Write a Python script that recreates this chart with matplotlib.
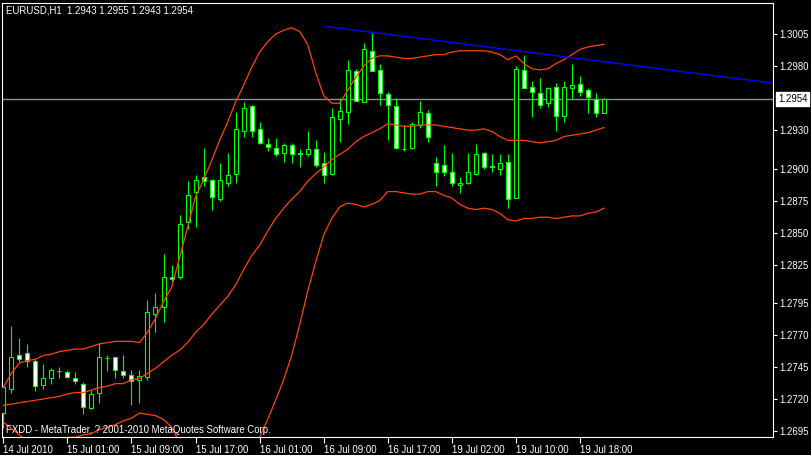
import matplotlib.pyplot as plt

plt.rcParams['font.family'] = ['Liberation Sans', 'DejaVu Sans']

# --- EURUSD H1 bars, 14 Jul 17:00 .. 19 Jul 2010 ---
opens = [1.2709, 1.2728, 1.2754, 1.2756, 1.2750, 1.2731, 1.2736, 1.2742, 1.2741, 1.2736,
         1.2732, 1.2713, 1.2725, 1.2752, 1.2753, 1.2742, 1.2739, 1.2735, 1.2737, 1.2786,
         1.2792, 1.2815, 1.2815, 1.2858, 1.2882, 1.2893, 1.2891, 1.2876, 1.2889, 1.2896,
         1.2929, 1.2949, 1.2931, 1.2919, 1.2916, 1.2912, 1.2918, 1.2911, 1.2911, 1.2915,
         1.2904, 1.2896, 1.2939, 1.2944, 1.2976, 1.2952, 1.2992, 1.2977, 1.2958, 1.2949,
         1.2915, 1.2916, 1.2934, 1.2943, 1.2904, 1.2903, 1.2897, 1.2887, 1.2889, 1.2896,
         1.2912, 1.2901, 1.2900, 1.2905, 1.2877, 1.2977, 1.2964, 1.2959, 1.2951, 1.2964,
         1.2941, 1.2963, 1.2966, 1.2961, 1.2954, 1.2943]
highs = [1.2730, 1.2777, 1.2768, 1.2763, 1.2751, 1.2747, 1.2744, 1.2745, 1.2743, 1.2741,
         1.2733, 1.2727, 1.2764, 1.2754, 1.2753, 1.2754, 1.2743, 1.2743, 1.2797, 1.2803,
         1.2833, 1.2825, 1.2864, 1.2890, 1.2895, 1.2916, 1.2892, 1.2904, 1.2912, 1.2944,
         1.2952, 1.2950, 1.2936, 1.2924, 1.2924, 1.2920, 1.2920, 1.2915, 1.2929, 1.2922,
         1.2913, 1.2947, 1.2955, 1.2985, 1.2978, 1.2998, 1.3006, 1.2982, 1.2960, 1.2955,
         1.2934, 1.2936, 1.2953, 1.2946, 1.2909, 1.2918, 1.2912, 1.2893, 1.2912, 1.2919,
         1.2913, 1.2911, 1.2911, 1.2911, 1.2980, 1.2989, 1.2968, 1.2971, 1.2964, 1.2967,
         1.2968, 1.2982, 1.2972, 1.2963, 1.2959, 1.2955]
lows = [1.2697, 1.2725, 1.2749, 1.2745, 1.2726, 1.2728, 1.2732, 1.2736, 1.2736, 1.2732,
        1.2708, 1.2712, 1.2717, 1.2742, 1.2736, 1.2736, 1.2715, 1.2717, 1.2735, 1.2772,
        1.2780, 1.2811, 1.2814, 1.2853, 1.2854, 1.2886, 1.2868, 1.2875, 1.2886, 1.2889,
        1.2925, 1.2925, 1.2919, 1.2914, 1.2910, 1.2905, 1.2904, 1.2901, 1.2910, 1.2901,
        1.2889, 1.2895, 1.2921, 1.2935, 1.2953, 1.2952, 1.2976, 1.2950, 1.2922, 1.2915,
        1.2914, 1.2915, 1.2932, 1.2921, 1.2886, 1.2894, 1.2886, 1.2881, 1.2888, 1.2895,
        1.2900, 1.2897, 1.2895, 1.2869, 1.2877, 1.2963, 1.2940, 1.2947, 1.2948, 1.2929,
        1.2936, 1.2954, 1.2957, 1.2943, 1.2940, 1.2943]
closes = [1.2729, 1.2753, 1.2751, 1.2750, 1.2730, 1.2736, 1.2743, 1.2742, 1.2737, 1.2734,
          1.2714, 1.2724, 1.2753, 1.2752, 1.2743, 1.2739, 1.2734, 1.2738, 1.2788, 1.2792,
          1.2815, 1.2814, 1.2857, 1.2879, 1.2891, 1.2890, 1.2878, 1.2891, 1.2895, 1.2931,
          1.2947, 1.2929, 1.2920, 1.2917, 1.2911, 1.2918, 1.2911, 1.2912, 1.2915, 1.2903,
          1.2895, 1.2940, 1.2945, 1.2977, 1.2953, 1.2993, 1.2976, 1.2959, 1.2950, 1.2916,
          1.2915, 1.2935, 1.2944, 1.2925, 1.2897, 1.2897, 1.2889, 1.2889, 1.2897, 1.2911,
          1.2901, 1.2902, 1.2904, 1.2876, 1.2978, 1.2963, 1.2960, 1.2950, 1.2963, 1.2941,
          1.2964, 1.2965, 1.2960, 1.2956, 1.2943, 1.2954]

# Bollinger bands
bb_upper = [1.2729, 1.2740, 1.2748, 1.2750, 1.2751, 1.2754, 1.2755, 1.2757, 1.2758, 1.2759,
            1.2759, 1.2761, 1.2763, 1.2764, 1.2765, 1.2765, 1.2765, 1.2764, 1.2772, 1.2783,
            1.2796, 1.2807, 1.2830, 1.2854, 1.2878, 1.2891, 1.2906, 1.2922, 1.2936, 1.2952,
            1.2965, 1.2979, 1.2991, 1.2999, 1.3005, 1.3008, 1.3010, 1.3007, 1.2997, 1.2975,
            1.2957, 1.2951, 1.2951, 1.2961, 1.2971, 1.2980, 1.2986, 1.2988, 1.2988, 1.2987,
            1.2986, 1.2986, 1.2987, 1.2988, 1.2989, 1.2989, 1.2991, 1.2992, 1.2992, 1.2992,
            1.2992, 1.2991, 1.2989, 1.2985, 1.2988, 1.2982, 1.2978, 1.2977, 1.2978, 1.2982,
            1.2985, 1.2989, 1.2993, 1.2995, 1.2996, 1.2997]
bb_middle = [1.2715, 1.2716, 1.2717, 1.2718, 1.2719, 1.2720, 1.2721, 1.2722, 1.2724, 1.2725,
             1.2725, 1.2727, 1.2729, 1.2730, 1.2732, 1.2732, 1.2735, 1.2736, 1.2740, 1.2744,
             1.2749, 1.2754, 1.2758, 1.2764, 1.2772, 1.2778, 1.2786, 1.2793, 1.2800, 1.2809,
             1.2821, 1.2832, 1.2840, 1.2851, 1.2861, 1.2869, 1.2876, 1.2882, 1.2890, 1.2896,
             1.2901, 1.2907, 1.2911, 1.2915, 1.2921, 1.2925, 1.2928, 1.2931, 1.2935, 1.2934,
             1.2933, 1.2933, 1.2934, 1.2934, 1.2934, 1.2933, 1.2932, 1.2931, 1.2930, 1.2930,
             1.2931, 1.2929, 1.2925, 1.2922, 1.2922, 1.2922, 1.2921, 1.2920, 1.2921, 1.2922,
             1.2925, 1.2926, 1.2927, 1.2928, 1.2930, 1.2932]
bb_lower = [1.2702, 1.2697, 1.2692, 1.2686, 1.2687, 1.2686, 1.2686, 1.2688, 1.2690, 1.2690,
            1.2692, 1.2693, 1.2696, 1.2698, 1.2700, 1.2703, 1.2705, 1.2709, 1.2708, 1.2707,
            1.2704, 1.2698, 1.2686, 1.2674, 1.2665, 1.2665, 1.2665, 1.2665, 1.2665, 1.2666,
            1.2676, 1.2684, 1.2690, 1.2704, 1.2719, 1.2735, 1.2754, 1.2778, 1.2804, 1.2827,
            1.2848, 1.2861, 1.2870, 1.2873, 1.2872, 1.2870, 1.2872, 1.2875, 1.2882, 1.2882,
            1.2881, 1.2880, 1.2880, 1.2882, 1.2882, 1.2879, 1.2877, 1.2872, 1.2869, 1.2868,
            1.2869, 1.2868, 1.2865, 1.2860, 1.2859, 1.2861, 1.2861, 1.2862, 1.2862, 1.2861,
            1.2862, 1.2863, 1.2863, 1.2865, 1.2866, 1.2869]

time_tick_bars = [0, 8, 16, 24, 32, 40, 48, 56, 64, 72]
time_tick_labels = ['14 Jul 2010', '15 Jul 01:00', '15 Jul 09:00', '15 Jul 17:00', '16 Jul 01:00',
                    '16 Jul 09:00', '16 Jul 17:00', '19 Jul 02:00', '19 Jul 10:00', '19 Jul 18:00']
price_ticks = [1.3005, 1.2980, 1.2930, 1.2900, 1.2875, 1.2850, 1.2825,
               1.2795, 1.2770, 1.2745, 1.2720, 1.2695]
bid = 1.2954
trend_bars = [40.2, 97.0]
trend_prices = [1.3011, 1.2966]

GREEN = '#00ff00'
BAND = '#ff4500'
FS = 6.9

W, H = 811, 455
fig = plt.figure(figsize=(W / 100, H / 100), dpi=100, facecolor='black')
ax = fig.add_axes([2.2 / W, 18 / H, 770.8 / W, 434 / H])
ax.set_facecolor('black')

bars = list(range(len(opens)))

# bid line behind the candles
ax.axhline(bid, color='#8a8f96', lw=1, zorder=1)

# candles: wicks, then bodies (white = down bar, black = up bar)
ax.vlines(bars, lows, highs, color=GREEN, lw=0.8, zorder=2)
bottoms = [min(o, c) for o, c in zip(opens, closes)]
heights = [abs(c - o) for o, c in zip(opens, closes)]
fills = ['black' if c > o else 'white' for o, c in zip(opens, closes)]
ax.bar(bars, heights, bottom=bottoms, width=0.5, color=fills, edgecolor=GREEN,
       linewidth=0.8, zorder=3)

# bollinger bands over the chart
for band in (bb_upper, bb_middle, bb_lower):
    ax.plot(bars, band, color=BAND, lw=0.9, zorder=4)

# trend line
ax.plot(trend_bars, trend_prices, color='#0000ff', lw=1, zorder=4)

ax.set_xlim(-0.14, 96.1)
ax.set_ylim(1.26903, 1.30293)

for s in ax.spines.values():
    s.set_color('white')
    s.set_linewidth(0.8)

ax.yaxis.tick_right()
ax.set_yticks(price_ticks)
ax.set_yticklabels(['%.4f' % p for p in price_ticks])
ax.tick_params(axis='y', colors='white', length=3, width=0.8, pad=1.5, labelsize=FS)

ax.set_xticks(time_tick_bars)
ax.set_xticklabels(time_tick_labels, ha='left')
ax.tick_params(axis='x', colors='white', length=4, width=0.8, pad=2, labelsize=FS)

# current price label on the price scale
ax.annotate('1.2954', xy=(1.0, bid), xycoords=('axes fraction', 'data'),
            xytext=(5, 0), textcoords='offset pixels', ha='left', va='center',
            fontsize=FS, color='black', annotation_clip=False,
            bbox=dict(boxstyle='square,pad=0.2', fc='white', ec='white'))

fig.text(6 / W, 1 - 10.5 / H, 'EURUSD,H1  1.2943 1.2955 1.2943 1.2954', color='white',
         fontsize=FS, va='center', ha='left')
fig.text(6 / W, 1 - 430 / H, 'FXDD - MetaTrader, ? 2001-2010 MetaQuotes Software Corp.',
         color='white', fontsize=FS, va='center', ha='left')

fig.savefig('out.png', dpi=100, facecolor='black')
